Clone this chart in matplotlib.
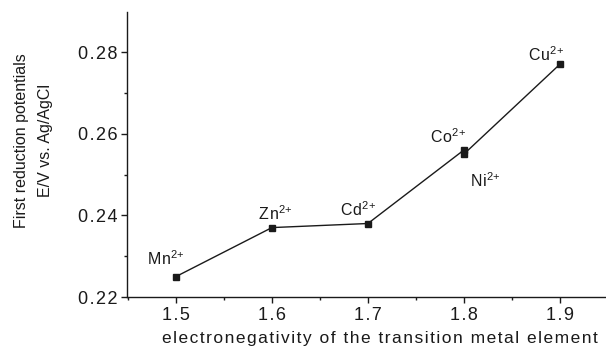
import matplotlib.pyplot as plt
from matplotlib.ticker import MultipleLocator, FuncFormatter

plt.rcParams['font.family'] = ['Liberation Sans', 'DejaVu Sans']
plt.rcParams['mathtext.fontset'] = 'custom'
plt.rcParams['mathtext.rm'] = 'Liberation Sans'
plt.rcParams['mathtext.it'] = 'Liberation Sans'

# electronegativity vs first reduction potential
ions = ['Mn', 'Zn', 'Cd', 'Co', 'Ni', 'Cu']
electroneg = [1.5, 1.6, 1.7, 1.8, 1.8, 1.9]
potential = [0.225, 0.237, 0.238, 0.256, 0.255, 0.277]

# label anchor positions (data coords)
label_x = [1.49, 1.603, 1.69, 1.783, 1.822, 1.886]
label_y = [0.2295, 0.2405, 0.2415, 0.2593, 0.2485, 0.2793]

HAIR = '\u200a'
INK = '#1a1a1a'


def spaced(s):
    # widen letter spacing a little
    return HAIR.join(s)


fig = plt.figure(figsize=(6.06, 3.54), dpi=100)
ax = fig.add_axes([127 / 606, 1 - 297 / 354, (605 - 127) / 606, (297 - 12) / 354])

ax.plot(electroneg, potential, color=INK, lw=1.0, marker='s', ms=5,
        mfc=INK, mec=INK)

for name, lx, ly in zip(ions, label_x, label_y):
    ax.text(lx, ly, spaced(name) + r'$^{\mathrm{2}\text{+}}$', ha='center',
            va='center', fontsize=11.5, color=INK)

ax.set_xlim(1.449, 1.947)
ax.set_ylim(0.22, 0.2898)
ax.xaxis.set_major_locator(MultipleLocator(0.1))
ax.xaxis.set_minor_locator(MultipleLocator(0.05))
ax.yaxis.set_major_locator(MultipleLocator(0.02))
ax.yaxis.set_minor_locator(MultipleLocator(0.01))
ax.xaxis.set_major_formatter(FuncFormatter(lambda v, p: spaced(f'{v:.1f}')))
ax.yaxis.set_major_formatter(FuncFormatter(lambda v, p: spaced(f'{v:.2f}')))

ax.spines['top'].set_visible(False)
ax.spines['right'].set_visible(False)
for s in ('left', 'bottom'):
    ax.spines[s].set_linewidth(1.0)
    ax.spines[s].set_color(INK)
ax.tick_params(which='major', direction='out', length=4, width=1,
               labelsize=13, colors=INK, pad=3)
ax.tick_params(which='minor', direction='out', length=2.5, width=1,
               colors=INK)

ax.set_xlabel(spaced('electronegativity of the transition metal element'),
              fontsize=12.5, color=INK)
ax.xaxis.set_label_coords(0.529, -0.145, transform=ax.transAxes)
ax.xaxis.label.set_va('center')
ax.set_ylabel('First reduction potentials\nE/V vs. Ag/AgCl', fontsize=11.5,
              color=INK, linespacing=1.75)
ax.yaxis.set_label_coords(-0.195, 0.55, transform=ax.transAxes)
ax.yaxis.label.set_va('center')

fig.savefig('out.png', dpi=100)
